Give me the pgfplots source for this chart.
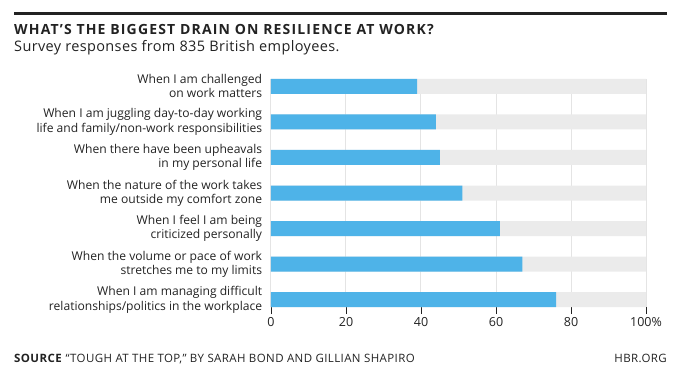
\documentclass[border=0pt]{standalone}
\usepackage{fontspec}
\setmainfont{Open Sans}
\usepackage{pgfplots}
\pgfplotsset{compat=1.18}
\definecolor{barblue}{HTML}{4EB3E8}
\definecolor{bargrey}{HTML}{EBEBEB}
\definecolor{gridgrey}{HTML}{E4E4E4}
\definecolor{txt}{HTML}{222222}
\begin{document}
\begin{tikzpicture}[x=1pt,y=1pt]
\useasboundingbox (0,0) rectangle (689,-385);
\fill[txt] (14,-12) rectangle (667,-14.7);
\node[anchor=base west,inner sep=0pt,text=txt] at (14,-35) {\fontsize{14}{16}\selectfont\addfontfeatures{LetterSpace=8.3}\bfseries WHAT’S THE BIGGEST DRAIN ON RESILIENCE AT WORK?};
\node[anchor=base west,inner sep=0pt,text=txt] at (14,-52) {\fontsize{14.5}{16}\selectfont\addfontfeatures{LetterSpace=2.5}Survey responses from 835 British employees.};
\node[anchor=base west,inner sep=0pt,text=txt] at (14,-362.7) {\fontsize{11.5}{13}\selectfont\addfontfeatures{LetterSpace=3.5}\textbf{SOURCE} “TOUGH AT THE TOP,” BY SARAH BOND AND GILLIAN SHAPIRO};
\node[anchor=base east,inner sep=0pt,text=txt] at (667,-362.7) {\fontsize{11.5}{13}\selectfont\addfontfeatures{LetterSpace=3.5}HBR.ORG};
\begin{axis}[
  at={(271pt,-307.2pt)}, anchor=south west,
  scale only axis, width=375pt, height=228.4pt,
  xmin=0, xmax=100, ymin=-0.21, ymax=6.21, y dir=reverse,
  xbar, bar width=15pt, bar shift=0pt,
  axis line style={draw=none},
  xtick={0,20,40,60,80,100},
  xticklabels={0,20,40,60,80,100\%},
  xtick pos=bottom, tick align=outside, major tick length=7pt,
  x tick style={draw=txt, line width=0.6pt},
  xmajorgrids, grid style={gridgrey, line width=1pt},
  ytick={0,...,6}, y tick style={draw=none},
  yticklabels={{When I am challenged\\on work matters},
    {When I am juggling day-to-day working\\life and family/non-work responsibilities},
    {When there have been upheavals\\in my personal life},
    {When the nature of the work takes\\me outside my comfort zone},
    {When I feel I am being\\criticized personally},
    {When the volume or pace of work\\stretches me to my limits},
    {When I am managing difficult\\relationships/politics in the workplace}},
  yticklabel style={font=\fontsize{12.1}{14.3}\selectfont, align=right, text=txt, inner sep=0pt, xshift=-1.7pt},
  xticklabel style={font=\fontsize{12.5}{14}\selectfont, text=txt},
  /pgf/number format/assume math mode=true,
]
\addplot[fill=bargrey, draw=none] coordinates {(100,0) (100,1) (100,2) (100,3) (100,4) (100,5) (100,6)};
\addplot[fill=barblue, draw=none] coordinates {(39,0) (44,1) (45,2) (51,3) (61,4) (67,5) (76,6)};
\end{axis}
\end{tikzpicture}
\end{document}
